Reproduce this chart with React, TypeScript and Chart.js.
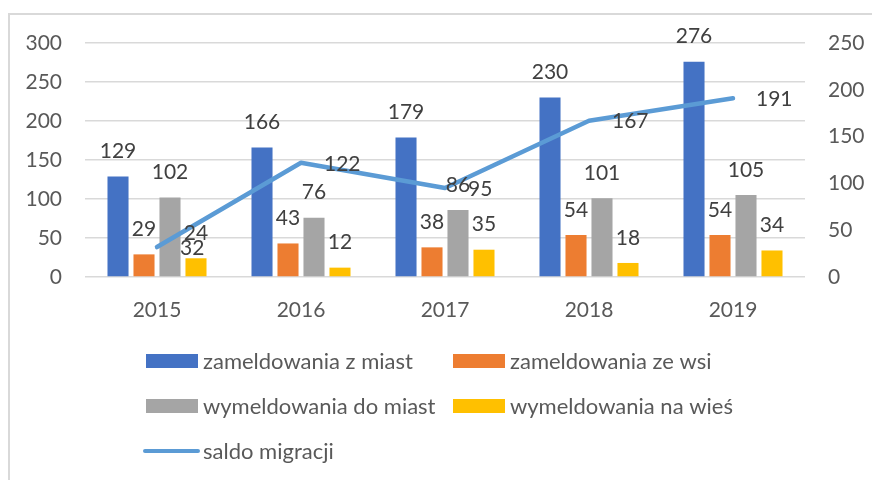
import React, { useEffect, useRef } from "react";
import { Chart, registerables } from "chart.js";
Chart.register(...registerables);

const years = ["2015", "2016", "2017", "2018", "2019"];
const zameldowaniaZMiast = [129, 166, 179, 230, 276];
const zameldowaniaZeWsi = [29, 43, 38, 54, 54];
const wymeldowaniaDoMiast = [102, 76, 86, 101, 105];
const wymeldowaniaNaWies = [24, 12, 35, 18, 34];
const saldoMigracji = [32, 122, 95, 167, 191];

const FONT = "Lato, 'Open Sans', sans-serif";
const TICK_COLOR = "#595959";
const LABEL_COLOR = "#404040";

const framePlugin = {
  id: "frame",
  beforeDraw(chart: any) {
    const ctx = chart.ctx;
    ctx.save();
    ctx.fillStyle = "#ffffff";
    ctx.fillRect(0, 0, chart.width, chart.height);
    ctx.strokeStyle = "#D9D9D9";
    ctx.lineWidth = 2;
    ctx.strokeRect(9, 14, chart.width + 20, chart.height + 20);
    ctx.restore();
  },
};

const labelPlugin = {
  id: "valueLabels",
  afterDatasetsDraw(chart: any) {
    const ctx = chart.ctx;
    ctx.save();
    ctx.font = `21px ${FONT}`;
    ctx.fillStyle = LABEL_COLOR;
    chart.data.datasets.forEach((ds: any, di: number) => {
      const meta = chart.getDatasetMeta(di);
      meta.data.forEach((el: any, i: number) => {
        const v = ds.data[i];
        if (ds.type === "line") {
          ctx.textAlign = "left";
          ctx.textBaseline = "middle";
          ctx.fillText(String(v), el.x + 23, el.y + 1);
        } else {
          ctx.textAlign = "center";
          ctx.textBaseline = "middle";
          ctx.fillText(String(v), el.x, el.y - 25);
        }
      });
    });
    ctx.restore();
  },
};

const legendPlugin = {
  id: "gridLegend",
  afterDraw(chart: any) {
    const ctx = chart.ctx;
    const colX = [146, 453];
    const rowY = [361, 406, 451];
    ctx.save();
    ctx.font = `22px ${FONT}`;
    ctx.textAlign = "left";
    ctx.textBaseline = "middle";
    chart.data.datasets.forEach((ds: any, i: number) => {
      const x = colX[i % 2];
      const y = rowY[Math.floor(i / 2)];
      if (ds.type === "line") {
        ctx.strokeStyle = ds.borderColor;
        ctx.lineWidth = 4;
        ctx.lineCap = "round";
        ctx.beginPath();
        ctx.moveTo(x - 1, y);
        ctx.lineTo(x + 52, y);
        ctx.stroke();
      } else {
        ctx.fillStyle = ds.backgroundColor;
        ctx.fillRect(x, y - 7, 52, 14);
      }
      ctx.fillStyle = TICK_COLOR;
      ctx.fillText(ds.label, x + 57, y + 1);
    });
    ctx.restore();
  },
};

export default function App() {
  const ref = useRef<HTMLCanvasElement | null>(null);
  useEffect(() => {
    document.body.style.margin = "0";
    const canvas = ref.current!;
    const chart = new Chart(canvas, {
      type: "bar",
      data: {
        labels: years,
        datasets: [
          { type: "bar", label: "zameldowania z miast", data: zameldowaniaZMiast, backgroundColor: "#4472C4", yAxisID: "y", order: 1 },
          { type: "bar", label: "zameldowania ze wsi", data: zameldowaniaZeWsi, backgroundColor: "#ED7D31", yAxisID: "y", order: 1 },
          { type: "bar", label: "wymeldowania do miast", data: wymeldowaniaDoMiast, backgroundColor: "#A5A5A5", yAxisID: "y", order: 1 },
          { type: "bar", label: "wymeldowania na wieś", data: wymeldowaniaNaWies, backgroundColor: "#FFC000", yAxisID: "y", order: 1 },
          {
            type: "line",
            label: "saldo migracji",
            data: saldoMigracji,
            borderColor: "#5B9BD5",
            backgroundColor: "#5B9BD5",
            borderWidth: 4.5,
            borderCapStyle: "round",
            borderJoinStyle: "round",
            pointRadius: 0,
            tension: 0,
            yAxisID: "y1",
            order: 0,
          } as any,
        ],
      },
      options: {
        responsive: false,
        animation: false,
        events: [],
        layout: { padding: { top: 43, bottom: 143, left: 0, right: 0 } },
        datasets: { bar: { categoryPercentage: 0.722, barPercentage: 0.81 } } as any,
        plugins: { legend: { display: false }, tooltip: { enabled: false } },
        scales: {
          x: {
            grid: { display: false },
            border: { display: false },
            ticks: { color: TICK_COLOR, font: { family: FONT, size: 21 }, padding: 13 },
            afterFit: (s: any) => { s.height = 60; },
          },
          y: {
            position: "left",
            min: 0,
            max: 300,
            ticks: { stepSize: 50, color: TICK_COLOR, font: { family: FONT, size: 21 }, padding: 23 },
            grid: { color: "#D9D9D9", lineWidth: 1.5, drawTicks: false },
            border: { display: false },
            afterFit: (s: any) => { s.width = 85; },
          },
          y1: {
            position: "right",
            min: 0,
            max: 250,
            ticks: { stepSize: 50, color: TICK_COLOR, font: { family: FONT, size: 21 }, padding: 23 },
            grid: { display: false, drawTicks: false },
            border: { display: false },
            afterFit: (s: any) => { s.width = 67; },
          },
        } as any,
      },
      plugins: [framePlugin, labelPlugin, legendPlugin],
    });
    return () => chart.destroy();
  }, []);
  return <canvas ref={ref} width={872} height={480} style={{ display: "block", width: 872, height: 480 }} />;
}
